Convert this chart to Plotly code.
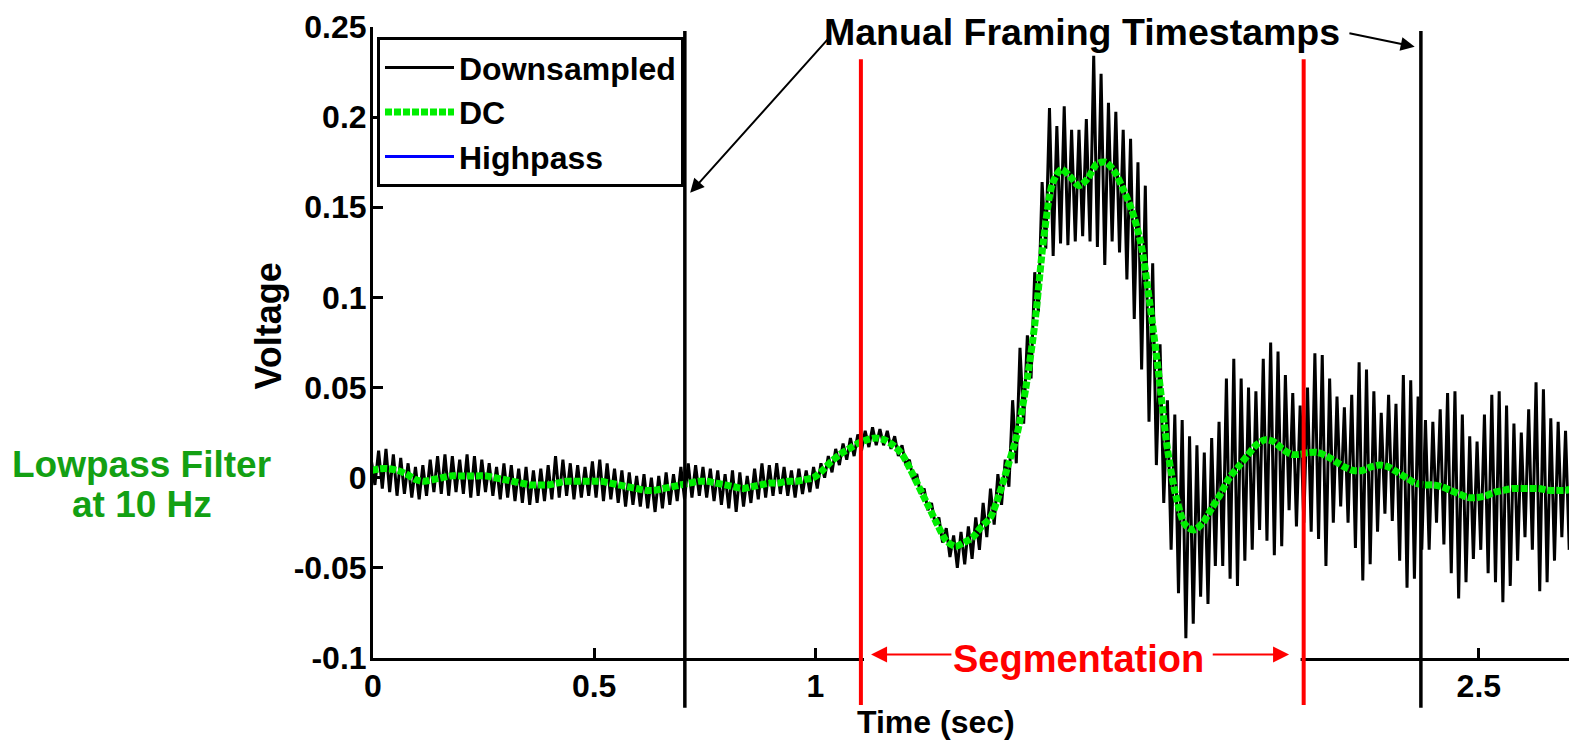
import numpy as np
import plotly.graph_objects as go

# ---------------- data ----------------
t_start = -0.004         # first sample time (s)
dc_step = 0.02           # spacing of the DC (lowpass) samples (s)
down_rate = 120          # downsampled trace: alternating peak / trough samples per second

# DC (lowpass filtered) curve, every 0.02 s from t_start
dc_values = [
    0.004, 0.005, 0.005, 0.004, 0.002, -0.001, -0.002, -0.001, 0.000, 0.001,
    0.001, 0.001, 0.001, 0.001, 0.000, -0.001, -0.002, -0.003, -0.004, -0.004,
    -0.004, -0.003, -0.002, -0.002, -0.002, -0.002, -0.002, -0.003, -0.004, -0.005,
    -0.006, -0.007, -0.007, -0.006, -0.005, -0.004, -0.003, -0.002, -0.002, -0.003,
    -0.004, -0.005, -0.006, -0.005, -0.004, -0.003, -0.003, -0.002, -0.002, -0.001,
    0.000, 0.004, 0.009, 0.013, 0.016, 0.019, 0.021, 0.022, 0.021, 0.018,
    0.013, 0.004, -0.006, -0.016, -0.026, -0.035, -0.038, -0.036, -0.033, -0.027,
    -0.022, -0.009, 0.007, 0.024, 0.050, 0.085, 0.132, 0.163, 0.171, 0.167,
    0.162, 0.166, 0.174, 0.175, 0.170, 0.160, 0.148, 0.130, 0.097, 0.058,
    0.016, -0.011, -0.026, -0.029, -0.025, -0.017, -0.009, 0.000, 0.006, 0.012,
    0.018, 0.021, 0.020, 0.016, 0.013, 0.013, 0.014, 0.014, 0.012, 0.009,
    0.006, 0.004, 0.004, 0.006, 0.007, 0.006, 0.003, 0.000, -0.003, -0.004,
    -0.004, -0.005, -0.007, -0.009, -0.011, -0.011, -0.010, -0.008, -0.007, -0.006,
    -0.006, -0.006, -0.006, -0.007, -0.007, -0.007, -0.006, -0.006,
]

# Downsampled trace: peak values (one per cycle) ...
down_peaks = [
    0.010, 0.015, 0.016, 0.013, 0.011, 0.008, 0.006, 0.007, 0.010, 0.012,
    0.013, 0.012, 0.010, 0.013, 0.012, 0.010, 0.008, 0.006, 0.008, 0.007,
    0.005, 0.006, 0.004, 0.005, 0.007, 0.012, 0.010, 0.008, 0.007, 0.006,
    0.009, 0.010, 0.008, 0.005, 0.004, 0.003, 0.001, 0.002, 0.000, 0.001,
    0.003, 0.002, 0.006, 0.008, 0.007, 0.006, 0.005, 0.004, 0.002, 0.004,
    0.003, 0.001, 0.005, 0.008, 0.007, 0.008, 0.006, 0.004, 0.005, 0.004,
    0.006,
    0.008, 0.012, 0.016, 0.019, 0.022, 0.024, 0.026, 0.028, 0.027, 0.026,
    0.023, 0.018, 0.010, 0.002, -0.006, -0.014, -0.022, -0.028, -0.032, -0.030,
    -0.027, -0.022, -0.014, -0.006, 0.002, 0.010,
    0.043, 0.072, 0.079, 0.114, 0.164, 0.205, 0.195, 0.206, 0.193, 0.193,
    0.199, 0.234, 0.224, 0.208, 0.203, 0.193, 0.188, 0.175, 0.162, 0.119,
    0.074, 0.043, 0.035, 0.032, 0.023, 0.018, 0.014,
    0.022, 0.031, 0.055, 0.066, 0.055, 0.050, 0.048, 0.066, 0.075, 0.070,
    0.057, 0.047, 0.040, 0.050, 0.069, 0.068, 0.055, 0.045, 0.039, 0.046,
    0.064, 0.060, 0.048, 0.036, 0.046, 0.041, 0.057, 0.054, 0.045, 0.032,
    0.031, 0.038, 0.047, 0.048, 0.035, 0.023, 0.020, 0.035, 0.046, 0.048,
    0.040, 0.030, 0.025, 0.038, 0.053, 0.049, 0.033, 0.031, 0.026, 0.056,
    0.050,
]
# ... and trough values (one per cycle, between consecutive peaks)
down_troughs = [
    -0.004, -0.006, -0.008, -0.010, -0.009, -0.011, -0.012, -0.010, -0.008, -0.009,
    -0.010, -0.008, -0.009, -0.011, -0.010, -0.008, -0.010, -0.012, -0.011, -0.013,
    -0.014, -0.015, -0.014, -0.013, -0.012, -0.011, -0.010, -0.012, -0.011, -0.010,
    -0.011, -0.013, -0.012, -0.014, -0.016, -0.015, -0.016, -0.017, -0.019, -0.017,
    -0.015, -0.013, -0.012, -0.011, -0.010, -0.011, -0.013, -0.015, -0.017, -0.019,
    -0.016, -0.014, -0.012, -0.011, -0.010, -0.009, -0.010, -0.011, -0.009, -0.008,
    -0.006,
    0.000, 0.003, 0.007, 0.010, 0.012, 0.015, 0.017, 0.018, 0.018, 0.016,
    0.012, 0.007, -0.001, -0.009, -0.018, -0.026, -0.036, -0.044, -0.050, -0.048,
    -0.045, -0.040, -0.033, -0.026, -0.015, -0.005,
    0.008, 0.030, 0.055, 0.092, 0.127, 0.123, 0.130, 0.129, 0.131, 0.134,
    0.131, 0.128, 0.118, 0.131, 0.125, 0.110, 0.088, 0.060, 0.031, 0.007,
    -0.014, -0.040, -0.064, -0.089, -0.081, -0.066, -0.070,
    -0.049, -0.049, -0.056, -0.060, -0.046, -0.040, -0.029, -0.035, -0.043, -0.038,
    -0.018, -0.027, -0.025, -0.030, -0.034, -0.049, -0.025, -0.016, -0.025, -0.039,
    -0.057, -0.048, -0.030, -0.020, -0.024, -0.046, -0.061, -0.056, -0.040, -0.040,
    -0.025, -0.037, -0.053, -0.067, -0.058, -0.045, -0.040, -0.053, -0.058, -0.069,
    -0.060, -0.046, -0.033, -0.040, -0.063, -0.058, -0.046, -0.033, -0.040, -0.053,
]

frame_times = [0.705, 2.369]      # manual framing timestamps (black)
segment_times = [1.103, 2.104]    # segmentation boundaries (red)

x_range = [0, 2.74]
y_range = [-0.1, 0.25]
x_tick_vals = [0, 0.5, 1, 2.5]
x_tick_text = ["0", "0.5", "1", "2.5"]
y_tick_vals = [-0.1, -0.05, 0, 0.05, 0.1, 0.15, 0.2, 0.25]
y_tick_text = ["-0.1", "-0.05", "0", "0.05", "0.1", "0.15", "0.2", "0.25"]

# ---------------- build series ----------------
dc_t = t_start + np.arange(len(dc_values)) * dc_step
down_y = []
for i, p in enumerate(down_peaks):
    down_y.append(p)
    if i < len(down_troughs):
        down_y.append(down_troughs[i])
down_t = t_start + np.arange(len(down_y)) / down_rate

FONT = "Liberation Sans, Arial, sans-serif"
GREEN_TXT = "#13a013"

fig = go.Figure()
fig.add_trace(go.Scatter(x=down_t, y=down_y, mode="lines", name="Downsampled",
                         line=dict(color="black", width=3)))
fig.add_trace(go.Scatter(x=dc_t, y=dc_values, mode="lines", name="DC",
                         line=dict(color="#00ee00", width=7, dash="7px,2px",
                                   shape="spline", smoothing=0.8)))
fig.add_trace(go.Scatter(x=[None], y=[None], mode="lines", name="Highpass",
                         line=dict(color="#0000ff", width=3)))

# white band hiding the x axis between the segmentation lines
fig.add_shape(type="rect", xref="x", yref="paper",
              x0=segment_times[0] + 0.007, x1=segment_times[1] - 0.007,
              y0=-0.012, y1=0.0206, fillcolor="white", line=dict(width=0),
              layer="above")
for t in frame_times:
    fig.add_shape(type="line", xref="x", yref="paper", x0=t, x1=t,
                  y0=-0.079, y1=0.9937, line=dict(color="black", width=3.5),
                  layer="above")
for t in segment_times:
    fig.add_shape(type="line", xref="x", yref="paper", x0=t, x1=t,
                  y0=-0.0744, y1=0.949, line=dict(color="#ff0000", width=4),
                  layer="above")

# annotations
fig.add_annotation(text="Manual Framing Timestamps", xref="x", yref="paper",
                   x=1.603, y=1.0285, xanchor="center", yanchor="top",
                   showarrow=False,
                   font=dict(family=FONT, size=37.5, color="black", weight="bold"))
fig.add_annotation(text="", xref="x", yref="y", axref="x", ayref="y",
                   x=0.717, y=0.158, ax=1.031, ay=0.244, showarrow=True,
                   arrowhead=2, arrowsize=1.4, arrowwidth=2, arrowcolor="black")
fig.add_annotation(text="", xref="x", yref="y", axref="x", ayref="y",
                   x=2.355, y=0.239, ax=2.204, ay=0.2467, showarrow=True,
                   arrowhead=2, arrowsize=1.4, arrowwidth=2, arrowcolor="black")

fig.add_annotation(text="Segmentation", xref="x", yref="paper",
                   x=1.596, y=-0.0016, xanchor="center", yanchor="middle",
                   showarrow=False,
                   font=dict(family=FONT, size=38, color="#ff0000", weight="bold"))
fig.add_annotation(text="", xref="x", yref="y", axref="x", ayref="y",
                   x=1.126, y=-0.0981, ax=1.311, ay=-0.0981, showarrow=True,
                   arrowhead=2, arrowsize=1.6, arrowwidth=2, arrowcolor="#ff0000")
fig.add_annotation(text="", xref="x", yref="y", axref="x", ayref="y",
                   x=2.071, y=-0.0981, ax=1.895, ay=-0.0981, showarrow=True,
                   arrowhead=2, arrowsize=1.6, arrowwidth=2, arrowcolor="#ff0000")

fig.add_annotation(text="Lowpass Filter", xref="paper", yref="paper",
                   x=-0.1906, y=0.3062, xanchor="center", yanchor="middle",
                   showarrow=False,
                   font=dict(family=FONT, size=37, color=GREEN_TXT, weight="bold"))
fig.add_annotation(text="at 10 Hz", xref="paper", yref="paper",
                   x=-0.1906, y=0.2426, xanchor="center", yanchor="middle",
                   showarrow=False,
                   font=dict(family=FONT, size=37, color=GREEN_TXT, weight="bold"))

fig.add_annotation(text="Voltage", xref="paper", yref="paper",
                   x=-0.0858, y=0.5253, xanchor="center", yanchor="middle",
                   textangle=-90, showarrow=False,
                   font=dict(family=FONT, size=36, color="black", weight="bold"))
fig.add_annotation(text="Time (sec)", xref="paper", yref="paper",
                   x=0.4645, y=-0.1013, xanchor="center", yanchor="middle",
                   showarrow=False,
                   font=dict(family=FONT, size=32, color="black", weight="bold"))

axis_common = dict(showline=True, linecolor="black", linewidth=3,
                   ticks="inside", ticklen=10, tickwidth=3, tickcolor="black",
                   showgrid=False, zeroline=False, mirror=False,
                   ticklabeloverflow="allow",
                   tickfont=dict(family=FONT, size=32, color="black", weight="bold"))

fig.update_xaxes(range=x_range, tickmode="array", tickvals=x_tick_vals,
                 ticktext=x_tick_text, ticklabelstandoff=-2, **axis_common)
fig.update_yaxes(range=y_range, tickmode="array", tickvals=y_tick_vals,
                 ticktext=y_tick_text, ticklabelstandoff=-3, **axis_common)

fig.update_layout(
    width=1577, height=750,
    margin=dict(l=365, r=0, t=19, b=100, autoexpand=False),
    paper_bgcolor="white", plot_bgcolor="white",
    showlegend=True,
    legend=dict(x=0.0033, y=0.984, xanchor="left", yanchor="top",
                bgcolor="white", bordercolor="black", borderwidth=3,
                itemwidth=69,
                font=dict(family=FONT, size=32, color="black", weight="bold")),
    hovermode=False,
)

fig.write_html("out.html", config={"displayModeBar": False})
